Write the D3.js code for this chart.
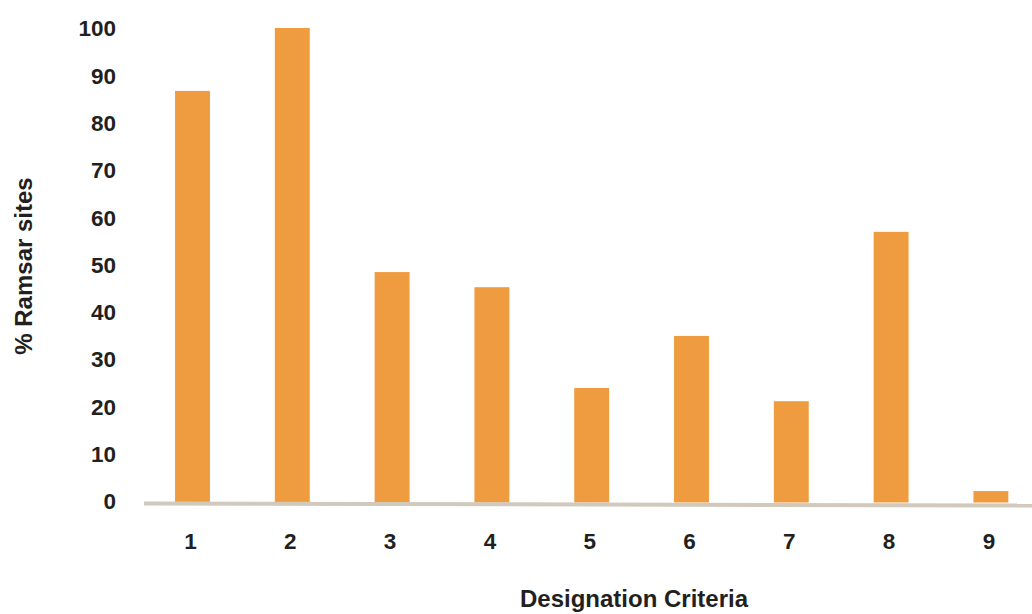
<!DOCTYPE html>
<html>
<head>
<meta charset="utf-8">
<script src="https://cdn.jsdelivr.net/npm/d3@7"></script>
<style>
  body { margin: 0; background: #fff; }
  svg text { font-family: "Liberation Sans", Arial, sans-serif; font-weight: bold; fill: #231f20; }
</style>
</head>
<body>
<svg id="chart" width="1032" height="614"></svg>
<script>
// Designation criteria and % of Ramsar sites
const criteria = ["1", "2", "3", "4", "5", "6", "7", "8", "9"];
const percentSites = [86.7, 100, 48.4, 45.2, 23.9, 34.9, 21.1, 56.9, 2.1];
const yTicks = [0, 10, 20, 30, 40, 50, 60, 70, 80, 90, 100];

const svg = d3.select("#chart");

//Scales
let x = d3.scaleBand()
    .domain(criteria)
    .range([142.6, 1040.8])
    .paddingInner(0.65)
    .paddingOuter(0.325);

let y = d3.scaleLinear()
    .domain([0, 100])
    .range([501, 28]);

//Bars
svg.append("g")
    .selectAll("rect")
    .data(criteria)
    .enter()
    .append("rect")
    .attr("x", d => x(d))
    .attr("width", x.bandwidth())
    .attr("y", (d, i) => y(percentSites[i]))
    .attr("height", (d, i) => y(0) - y(percentSites[i]) + 1.5)
    .attr("fill", "#ef9c40");

//Baseline, a bit tilted like the original
svg.append("line")
    .attr("x1", 144)
    .attr("x2", 1032)
    .attr("y1", y(0) + 2.5)
    .attr("y2", y(0) + 4.5)
    .attr("stroke", "#d0c9bc")
    .attr("stroke-width", 4);

//Y axis (labels only)
let yAxis = d3.axisLeft(y)
    .tickValues(yTicks)
    .tickSize(0)
    .tickPadding(0);

let yG = svg.append("g")
    .attr("transform", "translate(116,0)")
    .call(yAxis);
yG.select(".domain").remove();
yG.selectAll("text")
    .attr("font-size", 22.5)
    .attr("dy", "0.35em")
    .attr("font-family", null)
    .attr("fill", null);

//X axis (labels only)
let xAxis = d3.axisBottom(x)
    .tickSize(0)
    .tickPadding(0);

let xG = svg.append("g")
    .attr("transform", "translate(-2,534)")
    .call(xAxis);
xG.select(".domain").remove();
xG.selectAll("text")
    .attr("font-size", 22.5)
    .attr("dy", "0.35em")
    .attr("y", 7)
    .attr("font-family", null)
    .attr("fill", null);

//Axis titles
svg.append("text")
    .attr("transform", "translate(32,266) rotate(-90)")
    .attr("text-anchor", "middle")
    .attr("font-size", 24)
    .text("% Ramsar sites");

svg.append("text")
    .attr("x", 634)
    .attr("y", 607)
    .attr("text-anchor", "middle")
    .attr("font-size", 24)
    .text("Designation Criteria");
</script>
</body>
</html>
